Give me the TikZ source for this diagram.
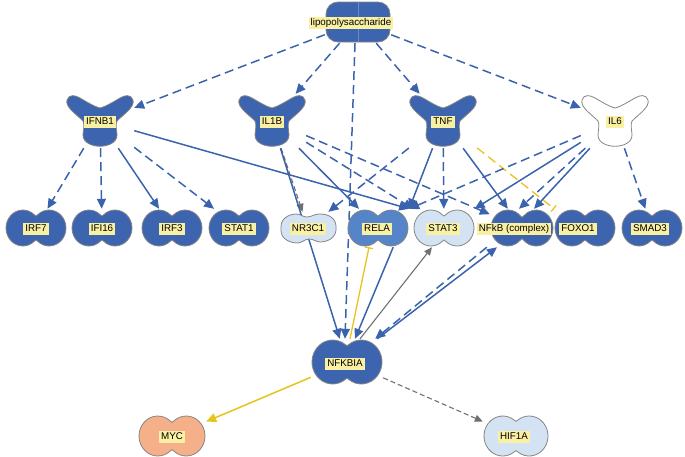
\documentclass[tikz,border=0pt]{standalone}
\usepackage{fontspec}
\setmainfont{Liberation Sans}
\usetikzlibrary{arrows.meta}

\definecolor{tfdark}{HTML}{3D64AE}
\definecolor{relablue}{HTML}{5584C8}
\definecolor{lightblue}{HTML}{D4E3F3}
\definecolor{mycorange}{HTML}{F5B08A}
\definecolor{shapegray}{HTML}{858585}
\definecolor{edgeblue}{HTML}{3B63AD}
\definecolor{edgeyellow}{HTML}{E7C31C}
\definecolor{edgegray}{HTML}{707070}
\definecolor{lblyellow}{HTML}{F9F0A3}

\pgfdeclarelayer{edges}
\pgfsetlayers{edges,main}

% transcription regulator: fill, width, height (pt)
\newcommand{\peanutpath}[3]{%
  \pgfmathsetmacro{\pRy}{#3/2}%
  \pgfmathsetmacro{\pRx}{0.94*#3/2}%
  \pgfmathsetmacro{\pD}{#2/2-\pRx}%
  \pgfmathsetmacro{\pA}{acos((\pD-1.5)/\pRx)}%
  \pgfmathsetmacro{\pY}{\pRy*sin(\pA)}%
  \pgfmathsetmacro{\pW}{\pY-1.5*\pRy*cos(\pA)/(\pRx*sin(\pA))}%
  \filldraw[fill=#1, draw=shapegray, line width=0.8pt, x=1pt, y=1pt,
    shift={(path picture bounding box.center)}]
    (-1.5,\pY) arc[start angle=\pA, end angle=360-\pA, x radius=\pRx pt, y radius=\pRy pt]
    .. controls (0,-\pW) .. (1.5,-\pY)
    arc[start angle=180+\pA, end angle=540-\pA, x radius=\pRx pt, y radius=\pRy pt]
    .. controls (0,\pW) .. cycle;
}
% cytokine
\newcommand{\cytopath}[1]{%
  \filldraw[fill=#1, draw=shapegray, line width=0.8pt, x=1pt, y=1pt,
    shift={(path picture bounding box.center)}]
    (-17,0) .. controls (-24,7) and (-35,14) .. (-33,21)
    .. controls (-31,27) and (-25,26) .. (-20,23)
    .. controls (-13,19) and (-5,14) .. (0,13)
    .. controls (5,14) and (13,19) .. (20,23)
    .. controls (25,26) and (31,27) .. (33,21)
    .. controls (35,14) and (24,7) .. (17,0)
    .. controls (15,-4) and (17,-10) .. (17,-14)
    .. controls (17,-29) and (-17,-29) .. (-17,-14)
    .. controls (-17,-10) and (-15,-4) .. cycle;
}
% chemical
\newcommand{\chempath}[1]{%
  \filldraw[fill=#1, draw=shapegray, line width=0.8pt, rounded corners=12pt,
    x=1pt, y=1pt, shift={(path picture bounding box.center)}]
    (-32,-20) rectangle (32,20);
  \draw[white!25!tfdark, line width=0.6pt, x=1pt, y=1pt,
    shift={(path picture bounding box.center)}] (0,-20) -- (0,20);
}
% ligand-dependent nuclear receptor
\newcommand{\cloudpath}[1]{%
  \filldraw[fill=#1, draw=shapegray, line width=0.8pt, x=1pt, y=1pt,
    shift={(path picture bounding box.center)}]
    plot[smooth cycle, tension=0.7] coordinates {(-27,1) (-23,10) (-12,14) (-1,11)
      (11,14) (23,11) (28,2) (25,-9) (13,-14) (1,-11) (-11,-15) (-24,-10)};
}

\tikzset{
  tf/.style n args={3}{inner sep=0pt, minimum width=#2pt+2pt, minimum height=#3pt+2pt,
    path picture={\peanutpath{#1}{#2}{#3}}},
  cyto/.style={inner sep=0pt, minimum width=68pt, minimum height=54pt,
    path picture={\cytopath{#1}}},
  chem/.style={inner sep=0pt, minimum width=66pt, minimum height=42pt,
    path picture={\chempath{#1}}},
  nucrec/.style={inner sep=0pt, minimum width=58pt, minimum height=32pt,
    path picture={\cloudpath{#1}}},
  lbl/.style={fill=lblyellow, inner xsep=2pt, inner ysep=1pt, text height=7.3pt,
    text depth=2pt, font=\fontsize{9.8}{11}\selectfont},
  act/.style={draw=edgeblue, line width=1.5pt, -{Triangle[length=10pt,width=9pt]}},
  pred/.style={act, dash pattern=on 9pt off 5pt},
  gact/.style={draw=edgegray, line width=1.1pt, -{Triangle[length=8pt,width=7pt]}},
  gpred/.style={gact, dash pattern=on 5pt off 3pt},
  yact/.style={draw=edgeyellow, line width=1.5pt, -{Triangle[length=10pt,width=9pt]}},
  yinh/.style={draw=edgeyellow, line width=1.3pt, -{Bar[width=8pt]}},
  ypredinh/.style={yinh, dash pattern=on 9pt off 5pt},
}

\begin{document}
\begin{tikzpicture}[x=1pt,y=-1pt]
\useasboundingbox (0,0) rectangle (685,456);

% upstream chemical
\node[chem=tfdark] (lps) at (358,22) {};
\node[lbl] (lps-lbl) at (351,23) {lipopolysaccharide};

% cytokines
\foreach \name/\x/\txt/\col in {ifnb1/100/IFNB1/tfdark, il1b/272/IL1B/tfdark,
    tnf/443/TNF/tfdark, il6/615/IL6/white}
{
  \node[cyto=\col] (\name) at (\x,121) {};
  \node[lbl] (\name-lbl) at (\x,122) {\txt};
}

% middle row
\foreach \name/\x/\lx/\txt/\col in {irf7/36/36/IRF7/tfdark, ifi16/102/102/IFI16/tfdark,
    irf3/172/172/IRF3/tfdark, stat1/239/239/STAT1/tfdark, rela/378/377/RELA/relablue,
    stat3/444/443/STAT3/lightblue, foxo1/585/578/FOXO1/tfdark, smad3/652/650/SMAD3/tfdark}
{
  \node[tf={\col}{60}{36}] (\name) at (\x,228) {};
  \node[lbl] (\name-lbl) at (\lx,229) {\txt};
}
\node[nucrec=lightblue] (nr3c1) at (308,228) {};
\node[lbl] (nr3c1-lbl) at (308,229) {NR3C1};
\node[tf={tfdark}{62}{36}] (nfkb) at (522,228) {};
\node[lbl] (nfkb-lbl) at (514,229) {NFkB (complex)};

% lower part
\node[tf={tfdark}{70}{44}] (nfkbia) at (347,362) {};
\node[lbl] (nfkbia-lbl) at (345,364) {NFKBIA};
\node[tf={mycorange}{66}{40}] (myc) at (172,436) {};
\node[lbl] (myc-lbl) at (172,437) {MYC};
\node[tf={lightblue}{64}{40}] (hif1a) at (516,436) {};
\node[lbl] (hif1a-lbl) at (514,437) {HIF1A};

\begin{pgfonlayer}{edges}
% from lipopolysaccharide
\draw[pred] (lps) -- (ifnb1);
\draw[pred] (lps) -- (il1b);
\draw[pred] (lps) -- (tnf);
\draw[pred] (lps) -- (il6);
\draw[pred] ([xshift=-3pt]lps.south) -- ([xshift=-2pt]nfkbia.north);
% from IFNB1
\draw[pred] (ifnb1) -- (irf7);
\draw[pred] (ifnb1) -- (ifi16);
\draw[act] (ifnb1) -- (irf3);
\draw[pred] (ifnb1) -- (stat1);
\draw[act] (ifnb1) -- (rela.north east);
% from IL1B
\draw[gpred] (il1b) -- (nr3c1);
\draw[act] (il1b) -- (nfkbia);
\draw[act] (il1b) -- (rela);
\draw[pred] (il1b) -- (stat3);
\draw[pred] (il1b) -- (nfkb);
% from TNF
\draw[pred] (tnf) -- (nr3c1);
\draw[act] (tnf) -- (rela.north east);
\draw[pred] (tnf) -- (stat3);
\draw[act] (tnf) -- (nfkb);
\draw[ypredinh] (tnf) -- (nfkb.north east);
% from IL6
\draw[pred] (il6) -- (rela.north east);
\draw[act] (il6) -- (stat3);
\draw[pred] (il6) -- ([xshift=-3pt]nfkb.north);
\draw[act] (il6) -- ([xshift=12pt]nfkb.north);
\draw[pred] (il6) -- (smad3);
% around NFKBIA
\draw[act] ([xshift=-16pt]rela.south east) -- ([xshift=8pt]nfkbia.north);
\draw[yinh] ([xshift=3pt]nfkbia.north) -- ([xshift=-9pt]rela.south);
\draw[gact] ([xshift=13pt]nfkbia.north) -- ([xshift=-12pt]stat3.south);
\draw[pred] ([xshift=-3pt]nfkb.south west) -- (nfkbia);
\draw[act] (nfkbia) -- ([xshift=-25pt]nfkb.south);
\draw[yact] (nfkbia) -- (myc);
\draw[gpred] (nfkbia) -- (hif1a);
\end{pgfonlayer}
\end{tikzpicture}
\end{document}
